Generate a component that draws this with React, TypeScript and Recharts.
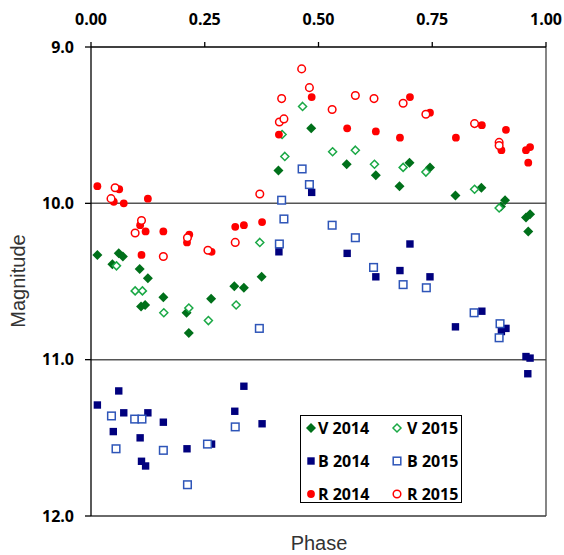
import React from 'react';
import { ScatterChart, Scatter, XAxis, YAxis, ReferenceLine, Legend, Label } from 'recharts';

type Pt = { phase: number; mag: number };

const v2014: Pt[] = [
  { phase: 0.014, mag: 10.33 }, { phase: 0.047, mag: 10.39 }, { phase: 0.061, mag: 10.32 },
  { phase: 0.070, mag: 10.34 }, { phase: 0.107, mag: 10.42 }, { phase: 0.110, mag: 10.66 },
  { phase: 0.119, mag: 10.65 }, { phase: 0.125, mag: 10.48 }, { phase: 0.159, mag: 10.60 },
  { phase: 0.210, mag: 10.70 }, { phase: 0.215, mag: 10.83 }, { phase: 0.264, mag: 10.61 },
  { phase: 0.315, mag: 10.53 }, { phase: 0.336, mag: 10.54 }, { phase: 0.375, mag: 10.47 },
  { phase: 0.412, mag: 9.79 }, { phase: 0.484, mag: 9.52 }, { phase: 0.562, mag: 9.75 },
  { phase: 0.626, mag: 9.82 }, { phase: 0.678, mag: 9.89 }, { phase: 0.700, mag: 9.74 },
  { phase: 0.745, mag: 9.77 }, { phase: 0.801, mag: 9.95 }, { phase: 0.858, mag: 9.90 },
  { phase: 0.901, mag: 10.02 }, { phase: 0.910, mag: 9.98 }, { phase: 0.956, mag: 10.09 },
  { phase: 0.961, mag: 10.18 }, { phase: 0.965, mag: 10.07 },
];

const v2015: Pt[] = [
  { phase: 0.056, mag: 10.40 }, { phase: 0.097, mag: 10.56 }, { phase: 0.113, mag: 10.56 },
  { phase: 0.160, mag: 10.70 }, { phase: 0.215, mag: 10.67 }, { phase: 0.258, mag: 10.75 },
  { phase: 0.319, mag: 10.65 }, { phase: 0.371, mag: 10.25 }, { phase: 0.420, mag: 9.56 },
  { phase: 0.426, mag: 9.70 }, { phase: 0.465, mag: 9.38 }, { phase: 0.531, mag: 9.67 },
  { phase: 0.581, mag: 9.66 }, { phase: 0.623, mag: 9.75 }, { phase: 0.686, mag: 9.77 },
  { phase: 0.736, mag: 9.80 }, { phase: 0.843, mag: 9.91 }, { phase: 0.897, mag: 10.03 },
];

const b2014: Pt[] = [
  { phase: 0.014, mag: 11.29 }, { phase: 0.049, mag: 11.46 }, { phase: 0.061, mag: 11.20 },
  { phase: 0.072, mag: 11.34 }, { phase: 0.108, mag: 11.50 }, { phase: 0.111, mag: 11.65 },
  { phase: 0.120, mag: 11.68 }, { phase: 0.125, mag: 11.34 }, { phase: 0.159, mag: 11.40 },
  { phase: 0.211, mag: 11.57 }, { phase: 0.265, mag: 11.54 }, { phase: 0.316, mag: 11.33 },
  { phase: 0.336, mag: 11.17 }, { phase: 0.376, mag: 11.41 }, { phase: 0.413, mag: 10.31 },
  { phase: 0.485, mag: 9.93 }, { phase: 0.563, mag: 10.32 }, { phase: 0.626, mag: 10.47 },
  { phase: 0.679, mag: 10.43 }, { phase: 0.701, mag: 10.26 }, { phase: 0.745, mag: 10.47 },
  { phase: 0.801, mag: 10.79 }, { phase: 0.859, mag: 10.69 }, { phase: 0.902, mag: 10.82 },
  { phase: 0.912, mag: 10.80 }, { phase: 0.956, mag: 10.98 }, { phase: 0.960, mag: 11.09 },
  { phase: 0.965, mag: 10.99 },
];

const b2015: Pt[] = [
  { phase: 0.045, mag: 11.36 }, { phase: 0.055, mag: 11.57 }, { phase: 0.096, mag: 11.38 },
  { phase: 0.112, mag: 11.38 }, { phase: 0.159, mag: 11.58 }, { phase: 0.212, mag: 11.80 },
  { phase: 0.256, mag: 11.54 }, { phase: 0.317, mag: 11.43 }, { phase: 0.370, mag: 10.80 },
  { phase: 0.414, mag: 10.26 }, { phase: 0.419, mag: 9.98 }, { phase: 0.424, mag: 10.10 },
  { phase: 0.464, mag: 9.78 }, { phase: 0.480, mag: 9.88 }, { phase: 0.530, mag: 10.14 },
  { phase: 0.581, mag: 10.22 }, { phase: 0.621, mag: 10.41 }, { phase: 0.686, mag: 10.52 },
  { phase: 0.737, mag: 10.54 }, { phase: 0.842, mag: 10.70 }, { phase: 0.897, mag: 10.86 },
  { phase: 0.899, mag: 10.77 },
];

const r2014: Pt[] = [
  { phase: 0.014, mag: 9.89 }, { phase: 0.050, mag: 9.99 }, { phase: 0.062, mag: 9.91 },
  { phase: 0.072, mag: 10.00 }, { phase: 0.108, mag: 10.14 }, { phase: 0.111, mag: 10.33 },
  { phase: 0.120, mag: 10.18 }, { phase: 0.125, mag: 9.97 }, { phase: 0.159, mag: 10.18 },
  { phase: 0.211, mag: 10.25 }, { phase: 0.216, mag: 10.20 }, { phase: 0.265, mag: 10.31 },
  { phase: 0.317, mag: 10.15 }, { phase: 0.336, mag: 10.14 }, { phase: 0.376, mag: 10.12 },
  { phase: 0.413, mag: 9.56 }, { phase: 0.485, mag: 9.32 }, { phase: 0.563, mag: 9.52 },
  { phase: 0.626, mag: 9.54 }, { phase: 0.679, mag: 9.58 }, { phase: 0.701, mag: 9.32 },
  { phase: 0.745, mag: 9.42 }, { phase: 0.802, mag: 9.58 }, { phase: 0.859, mag: 9.50 },
  { phase: 0.902, mag: 9.66 }, { phase: 0.912, mag: 9.53 }, { phase: 0.956, mag: 9.66 },
  { phase: 0.961, mag: 9.74 }, { phase: 0.965, mag: 9.64 },
];

const r2015: Pt[] = [
  { phase: 0.044, mag: 9.97 }, { phase: 0.053, mag: 9.90 }, { phase: 0.097, mag: 10.19 },
  { phase: 0.111, mag: 10.11 }, { phase: 0.159, mag: 10.34 }, { phase: 0.212, mag: 10.22 },
  { phase: 0.257, mag: 10.30 }, { phase: 0.317, mag: 10.25 }, { phase: 0.371, mag: 9.94 },
  { phase: 0.414, mag: 9.48 }, { phase: 0.419, mag: 9.33 }, { phase: 0.424, mag: 9.46 },
  { phase: 0.463, mag: 9.14 }, { phase: 0.480, mag: 9.26 }, { phase: 0.530, mag: 9.40 },
  { phase: 0.581, mag: 9.31 }, { phase: 0.622, mag: 9.33 }, { phase: 0.686, mag: 9.36 },
  { phase: 0.736, mag: 9.43 }, { phase: 0.843, mag: 9.49 }, { phase: 0.897, mag: 9.61 },
  { phase: 0.897, mag: 9.63 },
];

const phaseTicks = [0, 0.25, 0.5, 0.75, 1];
const magTicks = [9, 10, 11, 12];

const GREEN = '#00701A';
const GREEN_LIGHT = '#1AA845';
const NAVY = '#00007E';
const BLUE = '#2E55B8';
const RED = '#FF0000';

const FONT = "'Open Sans', 'DejaVu Sans', sans-serif";

type Kind = 'diamond' | 'square' | 'circle';

function marker(kind: Kind, filled: boolean, color: string, cx: number, cy: number, key?: string) {
  if (kind === 'diamond') {
    const h = filled ? 5 : 4;
    const d = `M${cx},${cy - h}L${cx + h},${cy}L${cx},${cy + h}L${cx - h},${cy}Z`;
    return filled
      ? <path key={key} d={d} fill={color} />
      : <path key={key} d={d} fill="#fff" stroke={color} strokeWidth={1.5} />;
  }
  if (kind === 'square') {
    const h = filled ? 3.7 : 3.8;
    return filled
      ? <rect key={key} x={cx - h} y={cy - h} width={2 * h} height={2 * h} fill={color} />
      : <rect key={key} x={cx - h} y={cy - h} width={2 * h} height={2 * h} fill="#fff" stroke={color} strokeWidth={1.5} />;
  }
  return filled
    ? <circle key={key} cx={cx} cy={cy} r={3.9} fill={color} />
    : <circle key={key} cx={cx} cy={cy} r={3.8} fill="#fff" stroke={color} strokeWidth={1.5} />;
}

const shape = (kind: Kind, filled: boolean, color: string) => (p: any) =>
  marker(kind, filled, color, p.cx, p.cy);

const legendItems: { name: string; kind: Kind; filled: boolean; color: string }[] = [
  { name: 'V 2014', kind: 'diamond', filled: true, color: GREEN },
  { name: 'V 2015', kind: 'diamond', filled: false, color: GREEN_LIGHT },
  { name: 'B 2014', kind: 'square', filled: true, color: NAVY },
  { name: 'B 2015', kind: 'square', filled: false, color: BLUE },
  { name: 'R 2014', kind: 'circle', filled: true, color: RED },
  { name: 'R 2015', kind: 'circle', filled: false, color: RED },
];

const LegendBox = () => (
  <svg width={162} height={88} style={{ display: 'block', overflow: 'visible' }}>
    <rect x={0.5} y={0.5} width={161} height={87} fill="#fff" stroke="#000" strokeWidth={1} />
    {legendItems.map((it, i) => {
      const col = i % 2;
      const row = Math.floor(i / 2);
      const mx = col === 0 ? 11 : 97;
      const tx = col === 0 ? 18 : 107;
      const my = 13 + row * 33;
      return (
        <g key={it.name}>
          {marker(it.kind, it.filled, it.color, mx, my)}
          <text x={tx} y={my} dy="0.36em" fontFamily={FONT} fontWeight="bold" fontSize={16} fill="#000">
            {it.name}
          </text>
        </g>
      );
    })}
  </svg>
);

export default function App() {
  return (
    <div style={{ position: 'absolute', left: 0, top: 0, width: 564, height: 555, background: '#fff' }}>
      <ScatterChart width={564} height={555} margin={{ top: 17, right: 18, bottom: 39, left: 31 }}>
        <XAxis
          type="number"
          dataKey="phase"
          orientation="top"
          height={30}
          domain={[0, 1]}
          ticks={phaseTicks}
          tickFormatter={(v: number) => v.toFixed(2)}
          tick={{ fill: '#000', fontFamily: FONT, fontWeight: 'bold', fontSize: 16 }}
          tickSize={5}
          tickMargin={17}
          axisLine={{ stroke: '#000', strokeWidth: 1.3 }}
          tickLine={{ stroke: '#000', strokeWidth: 1.3 }}
          allowDataOverflow
        />
        <YAxis
          type="number"
          dataKey="mag"
          width={60}
          reversed
          domain={[9, 12]}
          ticks={magTicks}
          tickFormatter={(v: number) => v.toFixed(1)}
          tick={{ fill: '#000', fontFamily: FONT, fontWeight: 'bold', fontSize: 16 }}
          tickSize={6}
          tickMargin={11}
          axisLine={{ stroke: '#000', strokeWidth: 1.3 }}
          tickLine={{ stroke: '#000', strokeWidth: 1.3 }}
          allowDataOverflow
        >
          <Label
            content={() => (
              <text
                x={25}
                y={281}
                transform="rotate(-90 25 281)"
                textAnchor="middle"
                fontFamily="'Liberation Sans', Arial, sans-serif"
                fontSize={20}
                fill="#333"
              >
                Magnitude
              </text>
            )}
          />
        </YAxis>
        <ReferenceLine y={10} stroke="#555" strokeWidth={1.5} />
        <ReferenceLine y={11} stroke="#555" strokeWidth={1.5} />
        <ReferenceLine y={12} stroke="#6a6a6a" strokeWidth={2}>
          <Label
            content={() => (
              <text
                x={319}
                y={550}
                textAnchor="middle"
                fontFamily="'Liberation Sans', Arial, sans-serif"
                fontSize={20}
                fill="#333"
              >
                Phase
              </text>
            )}
          />
        </ReferenceLine>
        <ReferenceLine x={1} stroke="#444" strokeWidth={1.3} />
        <Scatter name="V 2014" data={v2014} shape={shape('diamond', true, GREEN)} isAnimationActive={false} />
        <Scatter name="V 2015" data={v2015} shape={shape('diamond', false, GREEN_LIGHT)} isAnimationActive={false} />
        <Scatter name="B 2014" data={b2014} shape={shape('square', true, NAVY)} isAnimationActive={false} />
        <Scatter name="B 2015" data={b2015} shape={shape('square', false, BLUE)} isAnimationActive={false} />
        <Scatter name="R 2014" data={r2014} shape={shape('circle', true, RED)} isAnimationActive={false} />
        <Scatter name="R 2015" data={r2015} shape={shape('circle', false, RED)} isAnimationActive={false} />
        <Legend
          layout="horizontal"
          verticalAlign="middle"
          align="center"
          content={() => <LegendBox />}
          wrapperStyle={{ position: 'absolute', left: 300, top: 415, width: 162, height: 88, overflow: 'visible' }}
        />
      </ScatterChart>
    </div>
  );
}
